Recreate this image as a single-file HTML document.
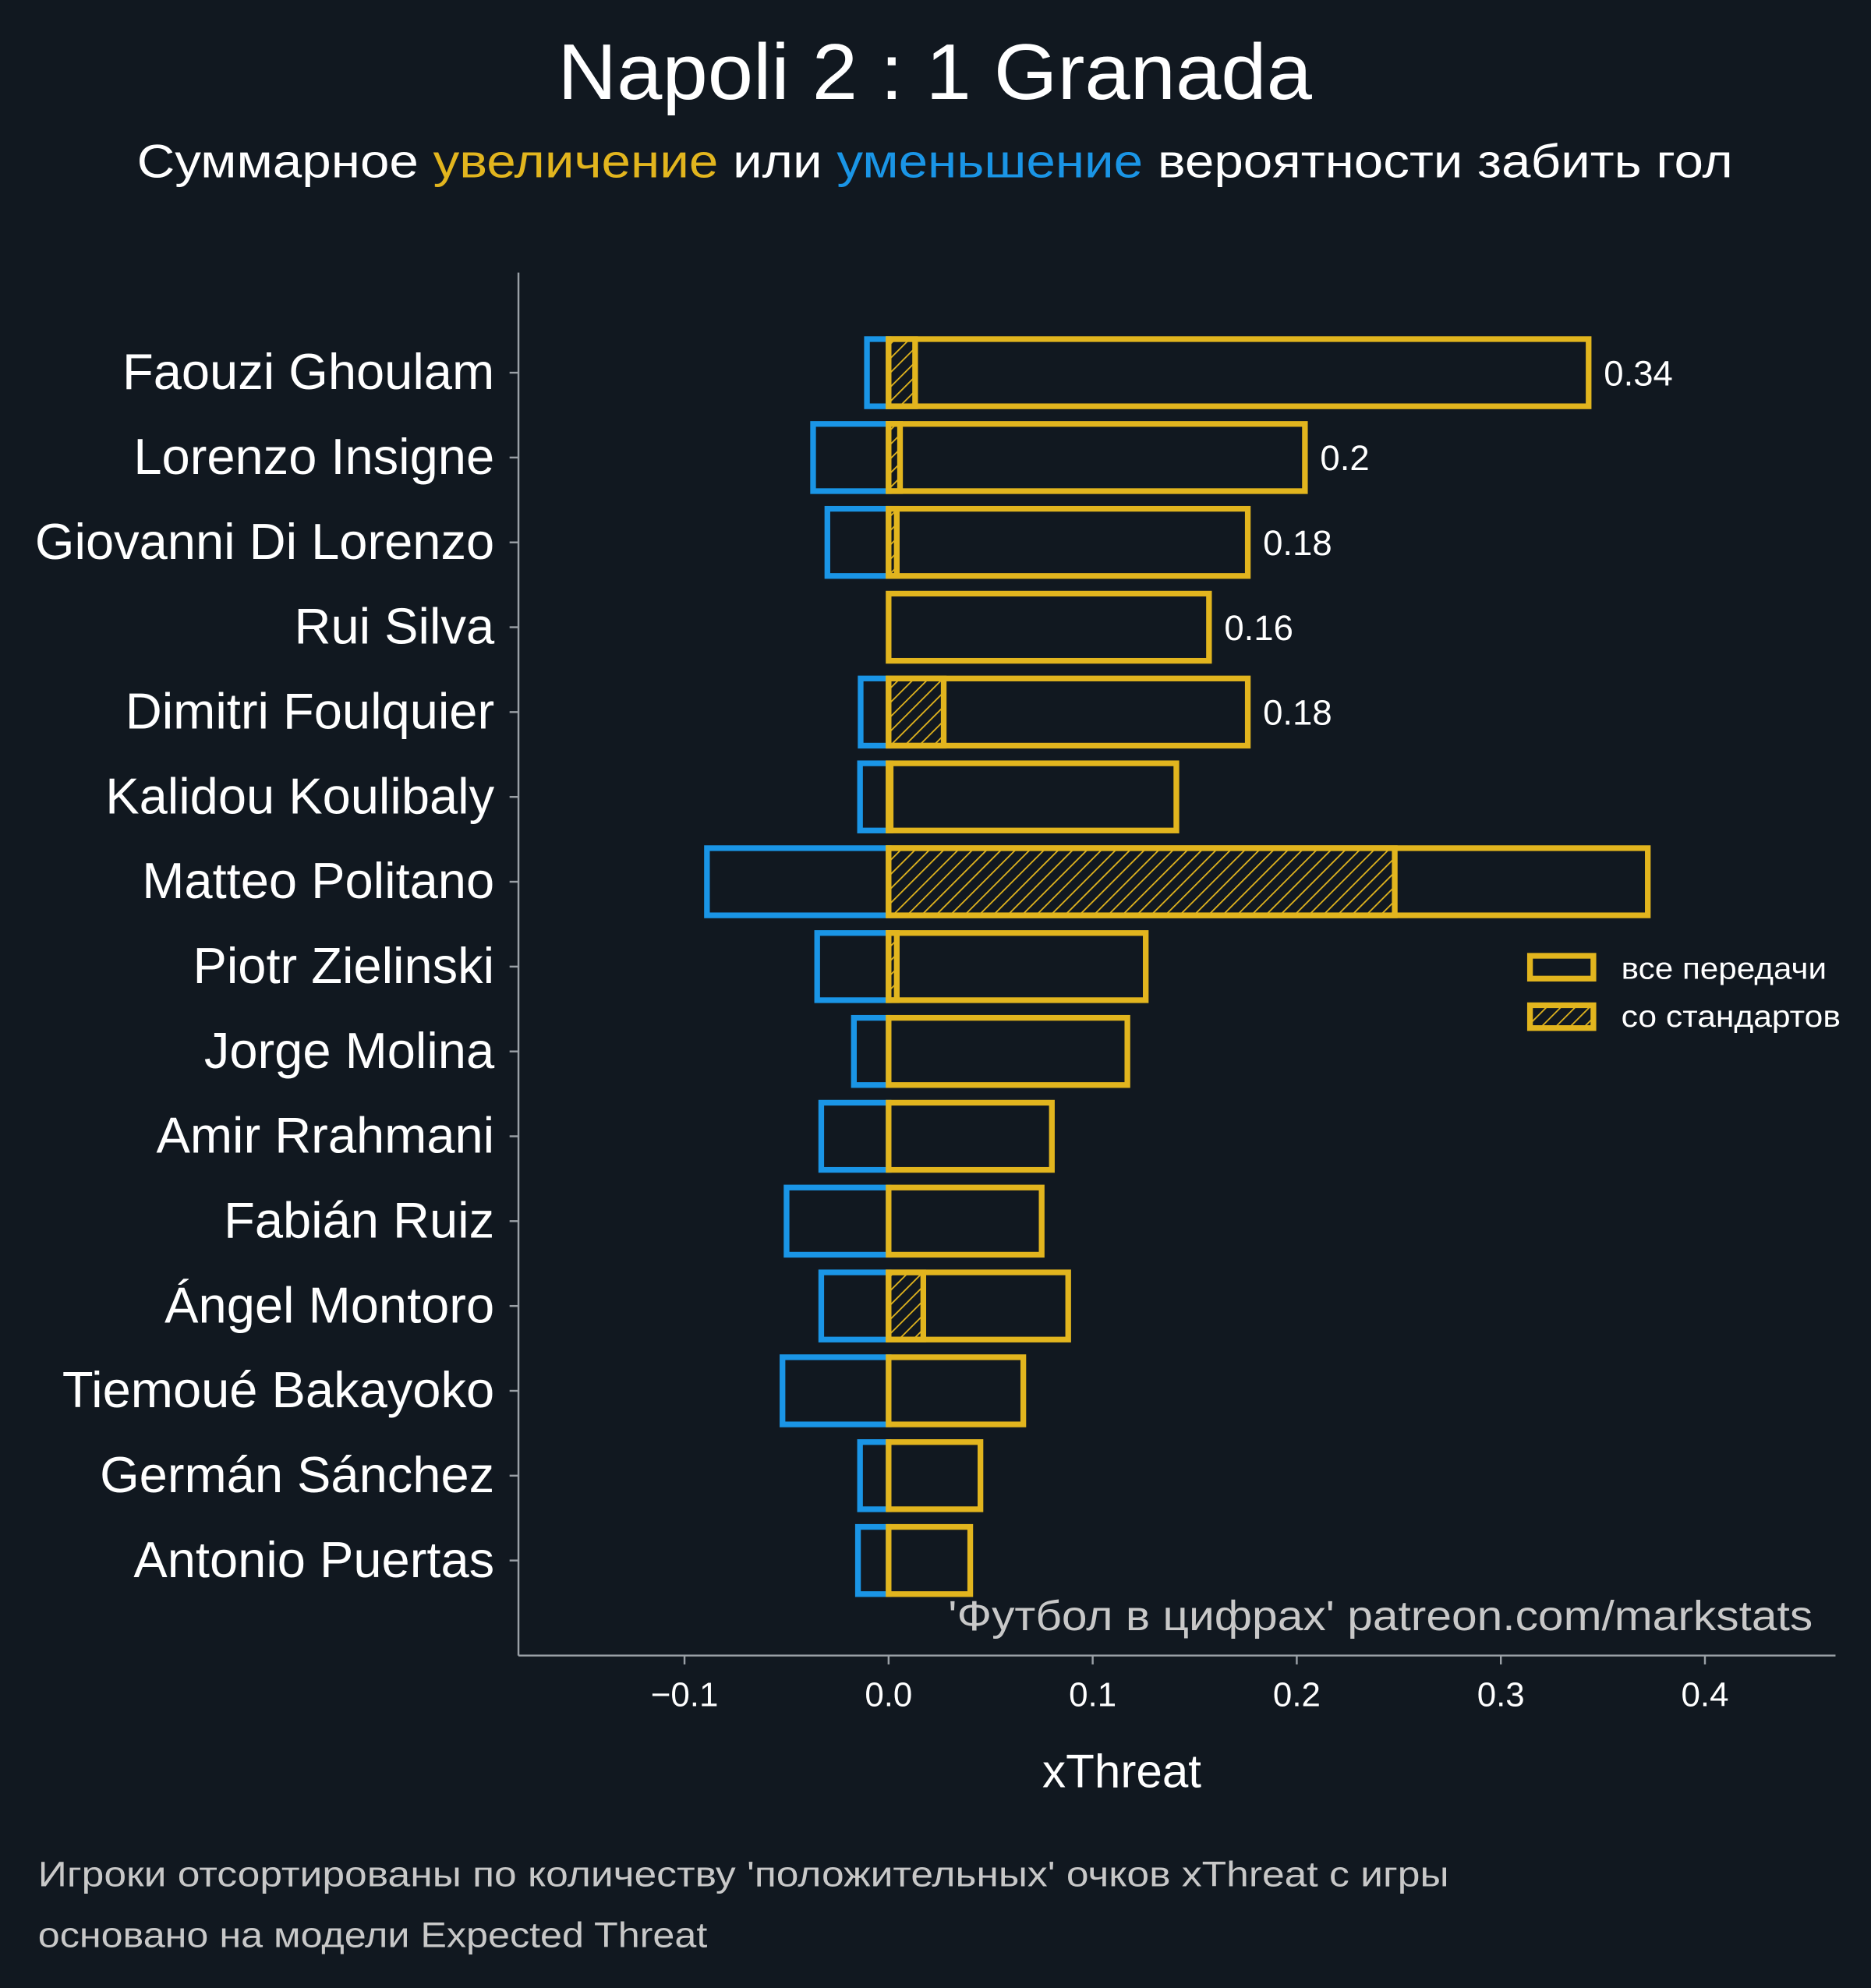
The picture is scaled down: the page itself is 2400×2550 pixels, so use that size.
<!DOCTYPE html>
<html><head><meta charset="utf-8"><style>
html,body{margin:0;padding:0;background:#111820;}
svg{display:block;font-family:"Liberation Sans","Noto Sans CJK SC",sans-serif;}
</style></head><body>
<svg id="chart" width="2400" height="2550" viewBox="0 0 1476 1568.25" xmlns="http://www.w3.org/2000/svg">
<defs>
<pattern id="hatch" patternUnits="userSpaceOnUse" width="8" height="8" patternTransform="rotate(45)">
<rect width="8" height="8" fill="#111820"/>
<line x1="0" y1="0" x2="0" y2="8" stroke="#e2b51e" stroke-width="2.2"/>
</pattern>
</defs>
<rect width="1476" height="1568.25" fill="#111820"/>
<text x="440" y="78" textLength="595" lengthAdjust="spacingAndGlyphs" fill="#ffffff" font-size="62">Napoli 2 : 1 Granada</text>
<text x="108" y="140" textLength="1259" lengthAdjust="spacingAndGlyphs" fill="#ffffff" font-size="37">Суммарное <tspan fill="#e2b51e">увеличение</tspan> или <tspan fill="#1a95e6">уменьшение</tspan> вероятности забить гол</text>
<g id="plot"></g>
<text x="748" y="1286" textLength="682" lengthAdjust="spacingAndGlyphs" fill="#c8c8c8" font-size="33">'Футбол в цифрах' patreon.com/markstats</text>
<text x="885" y="1410" text-anchor="middle" fill="#ffffff" font-size="37">xThreat</text>
<g>
<rect x="1207" y="754" width="50" height="18" fill="none" stroke="#e2b51e" stroke-width="4.5"/>
<text x="1279" y="772" textLength="162" lengthAdjust="spacingAndGlyphs" fill="#ffffff" font-size="24">все передачи</text>
<rect x="1207" y="793" width="50" height="18" fill="url(#hatch)" stroke="#e2b51e" stroke-width="4.5"/>
<text x="1279" y="810" textLength="173" lengthAdjust="spacingAndGlyphs" fill="#ffffff" font-size="24">со стандартов</text>
</g>
<text x="30" y="1488" textLength="1113" lengthAdjust="spacingAndGlyphs" fill="#c8c8c8" font-size="28">Игроки отсортированы по количеству 'положительных' очков xThreat с игры</text>
<text x="30" y="1536" textLength="528" lengthAdjust="spacingAndGlyphs" fill="#c8c8c8" font-size="28">основано на модели Expected Threat</text>
</svg>
<script>
const players = ["Faouzi Ghoulam","Lorenzo Insigne","Giovanni Di Lorenzo","Rui Silva","Dimitri Foulquier","Kalidou Koulibaly","Matteo Politano","Piotr Zielinski","Jorge Molina","Amir Rrahmani","Fabián Ruiz","Ángel Montoro","Tiemoué Bakayoko","Germán Sánchez","Antonio Puertas"];
const positive = [0.343,0.204,0.176,0.157,0.176,0.141,0.372,0.126,0.117,0.080,0.075,0.088,0.066,0.045,0.040];
const negative = [-0.0106,-0.037,-0.030,0,-0.0137,-0.014,-0.089,-0.035,-0.017,-0.033,-0.050,-0.033,-0.052,-0.014,-0.015];
const setPieces = [0.013,0.0056,0.004,0,0.027,0.001,0.248,0.004,0,0,0,0.017,0,0,0];
const valueLabels = ["0.34","0.2","0.18","0.16","0.18","","","","","","","","","",""];
const xTicks = [-0.1,0.0,0.1,0.2,0.3,0.4];
const xTickLabels = ["−0.1","0.0","0.1","0.2","0.3","0.4"];

const NS="http://www.w3.org/2000/svg";
const g=document.getElementById('plot');
const x=v=>701+v*1610;
const y=i=>294+i*66.93;
const bh=53;
const Y="#e2b51e", B="#1a95e6";
function mk(tag,attrs){const e=document.createElementNS(NS,tag);for(const k in attrs)e.setAttribute(k,attrs[k]);g.appendChild(e);return e;}

let e=mk('line',{x1:409,y1:215,x2:409,y2:1306,stroke:"#9aa0a6","stroke-width":1.5});


e=mk('line',{x1:409,y1:1306,x2:1448,y2:1306,stroke:"#9aa0a6","stroke-width":1.5});



xTicks.forEach((t,i)=>{
  let l=mk('line',{x1:x(t),y1:1306,x2:x(t),y2:1313,stroke:"#9aa0a6","stroke-width":1.5});
  
  
  let tx=mk('text',{x:x(t),y:1346,"text-anchor":"middle",fill:"#ffffff","font-size":27});
  tx.textContent=xTickLabels[i];
  
  
});

players.forEach((p,i)=>{
  const cy=y(i), top=cy-bh/2;
  let l=mk('line',{x1:402,y1:cy,x2:409,y2:cy,stroke:"#9aa0a6","stroke-width":1.5});
  
  
  let t=mk('text',{x:390,y:cy+13,"text-anchor":"end",fill:"#ffffff","font-size":40});
  t.textContent=p;
  
  
  if(negative[i]<0){
    let r=mk('rect',{x:x(negative[i]),y:top,width:x(0)-x(negative[i]),height:bh,fill:"none",stroke:B,"stroke-width":4.5});
    
    
  }
  if(setPieces[i]>0){
    let r=mk('rect',{x:x(0),y:top,width:x(setPieces[i])-x(0),height:bh,fill:"url(#hatch)",stroke:Y,"stroke-width":4.5});
    
    
  }
  let r=mk('rect',{x:x(0),y:top,width:x(positive[i])-x(0),height:bh,fill:"none",stroke:Y,"stroke-width":4.5});
  
  
  if(valueLabels[i]){
    let v=mk('text',{x:x(positive[i])+12,y:cy+10,fill:"#ffffff","font-size":28});
    v.textContent=valueLabels[i];
    
    
  }
});
</script>
</body></html>
